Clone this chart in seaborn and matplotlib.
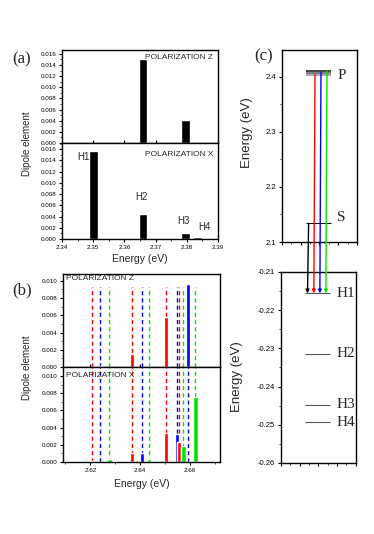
import matplotlib

matplotlib.use("Agg")

import matplotlib.pyplot as plt
import seaborn as sns
from matplotlib.patches import ConnectionPatch
from matplotlib.ticker import FormatStrFormatter, MultipleLocator, NullFormatter

# panel (a): S -> H transitions
a_z_energy = [2.366, 2.3795]
a_z_dipole = [0.0150, 0.0042]
a_x_energy = [2.350, 2.366, 2.3795, 2.3835]
a_x_dipole = [0.0156, 0.0045, 0.0011, 0.0003]
a_x_labels = ["H1", "H2", "H3", "H4"]
a_label_x = [2.3469, 2.3656, 2.3789, 2.3858]
a_label_y = [0.0146, 0.0075, 0.0032, 0.0021]

# panel (b): P -> H transitions
b_energy = [2.6207, 2.6240, 2.6276, 2.6367, 2.6407, 2.6436,
            2.6503, 2.6547, 2.6556, 2.6573, 2.6591, 2.6621]
b_color = ["red", "blue", "green", "red", "blue", "green",
           "red", "blue", "red", "green", "blue", "green"]
b_z_dipole = [0.0, 0.0001, 0.0, 0.0015, 0.0, 0.0001,
              0.0058, 0.0, 0.0, 0.0, 0.0096, 0.0]
b_x_dipole = [0.0001, 0.0, 0.0004, 0.0011, 0.0010, 0.0004,
              0.0034, 0.0033, 0.0023, 0.0019, 0.0, 0.0076]

# panel (c): level scheme
p_levels = [2.404, 2.408, 2.411]
s_level = 2.134
h_levels = [-0.2156, -0.2314, -0.2447, -0.2493]
h_labels = ["H1", "H2", "H3", "H4"]

COLORS = {"red": "#ff0000", "blue": "#0000ff", "green": "#00e600"}
SANS = ["Liberation Sans", "DejaVu Sans"]
SERIF = ["Liberation Serif", "DejaVu Serif"]

sns.set_theme(style="ticks")
plt.rcParams["font.family"] = SANS
plt.rcParams["axes.linewidth"] = 1.0
plt.rcParams["axes.edgecolor"] = "black"

fig = plt.figure(figsize=(3.74, 5.34), dpi=100)


def _style(ax, xmaj, xmin, ymaj, ymin, size=4.5):
    ax.xaxis.set_major_locator(MultipleLocator(xmaj))
    ax.xaxis.set_minor_locator(MultipleLocator(xmin))
    ax.yaxis.set_major_locator(MultipleLocator(ymaj))
    ax.yaxis.set_minor_locator(MultipleLocator(ymin))
    ax.tick_params(which="major", length=2.5, width=0.8, labelsize=size, pad=1.5, colors="black")
    ax.tick_params(which="minor", length=1.5, width=0.6)
    for spine in ax.spines.values():
        spine.set_visible(True)
        spine.set_color("black")


# ---- panel (a)
ax_a1 = fig.add_axes([0.1658, 0.7322, 0.4171, 0.1742])
ax_a2 = fig.add_axes([0.1658, 0.5524, 0.4171, 0.1798])
ax_a1.bar(a_z_energy, a_z_dipole, width=0.0028, color="black")
ax_a2.bar(a_x_energy, a_x_dipole, width=0.0028, color="black")
for ax, top in ((ax_a1, 0.0167), (ax_a2, 0.0171)):
    ax.set_xlim(2.34, 2.39)
    ax.set_ylim(0, top)
    _style(ax, 0.01, 0.005, 0.002, 0.001)
    ax.yaxis.set_major_formatter(FormatStrFormatter("%.3f"))
ax_a1.xaxis.set_major_formatter(NullFormatter())
ax_a1.tick_params(axis="x", direction="in")
ax_a2.xaxis.set_major_formatter(FormatStrFormatter("%.2f"))
for x, lab, y in zip(a_label_x, a_x_labels, a_label_y):
    ax_a2.text(x, y, lab, fontsize=7, ha="center", va="center")
ax_a1.text(0.97, 0.96, "POLARIZATION Z", transform=ax_a1.transAxes,
           fontsize=6, ha="right", va="top")
ax_a2.text(0.97, 0.92, "POLARIZATION X", transform=ax_a2.transAxes,
           fontsize=6, ha="right", va="top")

# ---- panel (b)
ax_b1 = fig.add_axes([0.1684, 0.3127, 0.4198, 0.1742])
ax_b2 = fig.add_axes([0.1684, 0.1348, 0.4198, 0.1779])
for ax, dip, top, lmax in ((ax_b1, b_z_dipole, 0.0108, 0.86), (ax_b2, b_x_dipole, 0.01105, 1.0)):
    for e, c in zip(b_energy, b_color):
        ax.axvline(e, ymin=0, ymax=lmax, color=COLORS[c], lw=1.0,
                   linestyle=(0, (3, 2.2)), zorder=1)
    ax.bar(b_energy, dip, width=0.0018, color=[COLORS[c] for c in b_color], zorder=2)
    ax.set_xlim(2.609, 2.672)
    ax.set_ylim(0, top)
    _style(ax, 0.02, 0.01, 0.002, 0.001)
    ax.yaxis.set_major_formatter(FormatStrFormatter("%.3f"))
ax_b1.xaxis.set_major_formatter(NullFormatter())
ax_b1.tick_params(axis="x", direction="in")
ax_b2.xaxis.set_major_formatter(FormatStrFormatter("%.2f"))
ax_b1.text(0.02, 0.99, "POLARIZATION Z", transform=ax_b1.transAxes,
           fontsize=6, ha="left", va="top")
ax_b2.text(0.02, 0.95, "POLARIZATION X", transform=ax_b2.transAxes,
           fontsize=6, ha="left", va="top")

# ---- panel (c)
ax_c1 = fig.add_axes([0.754, 0.5468, 0.2005, 0.3596])
ax_c2 = fig.add_axes([0.751, 0.1330, 0.2005, 0.3577])
ax_c1.set_ylim(2.1, 2.449)
ax_c2.set_ylim(-0.26, -0.21)
for ax in (ax_c1, ax_c2):
    ax.set_xlim(0, 1)
ax_c1.xaxis.set_major_formatter(NullFormatter())
ax_c2.xaxis.set_major_formatter(NullFormatter())
_style(ax_c1, 0.25, 0.125, 0.1, 0.05, size=5.5)
_style(ax_c2, 0.25, 0.125, 0.01, 0.005, size=5.5)
ax_c1.yaxis.set_major_formatter(FormatStrFormatter("%.1f"))
ax_c2.yaxis.set_major_formatter(FormatStrFormatter("%.2f"))

for lvl, col in zip(p_levels, ["#999999", "#666666", "#222222"]):
    ax_c1.hlines(lvl, 0.32, 0.66, color=col, lw=1.2)
ax_c1.hlines(s_level, 0.32, 0.66, color="black", lw=0.7)
ax_c1.text(0.74, p_levels[-1] - 0.008, "P", family=SERIF, fontsize=11, va="center")
ax_c1.text(0.74, s_level + 0.01, "S", family=SERIF, fontsize=11, va="center")
for lvl, lab in zip(h_levels, h_labels):
    ax_c2.hlines(lvl, 0.32, 0.66, color="#555555", lw=0.8)
    ax_c2.text(0.74, lvl, lab, family=SERIF, fontsize=11, va="center")

arrows = [(0.355, s_level, "black"), (0.44, p_levels[0], COLORS["red"]),
          (0.52, p_levels[1], COLORS["blue"]), (0.60, p_levels[2], COLORS["green"])]
for x, start, col in arrows:
    con = ConnectionPatch(xyA=(x, start), coordsA=ax_c1.transData,
                          xyB=(x, h_levels[0]), coordsB=ax_c2.transData,
                          arrowstyle="-|>", mutation_scale=5, color=col, lw=1.0,
                          shrinkA=0, shrinkB=0)
    fig.add_artist(con)

# ---- figure labels
fig.text(22 / 374, 1 - 59 / 534, "(a)", family=SERIF, fontsize=12, ha="center", va="center")
fig.text(22 / 374, 1 - 290 / 534, "(b)", family=SERIF, fontsize=12, ha="center", va="center")
fig.text(264 / 374, 1 - 56 / 534, "(c)", family=SERIF, fontsize=12, ha="center", va="center")
fig.text(27 / 374, 1 - 144 / 534, "Dipole element", fontsize=7, rotation=90, ha="center", va="center")
fig.text(27 / 374, 1 - 368 / 534, "Dipole element", fontsize=7, rotation=90, ha="center", va="center")
fig.text(140 / 374, 1 - 259 / 534, "Energy (eV)", fontsize=7.5, ha="center", va="center")
fig.text(142 / 374, 1 - 484 / 534, "Energy (eV)", fontsize=7.5, ha="center", va="center")
fig.text(247 / 374, 1 - 133 / 534, "Energy (eV)", fontsize=9.5, rotation=90, ha="center", va="center")
fig.text(237 / 374, 1 - 377 / 534, "Energy (eV)", fontsize=9.5, rotation=90, ha="center", va="center")

fig.savefig("out.png", dpi=100)
